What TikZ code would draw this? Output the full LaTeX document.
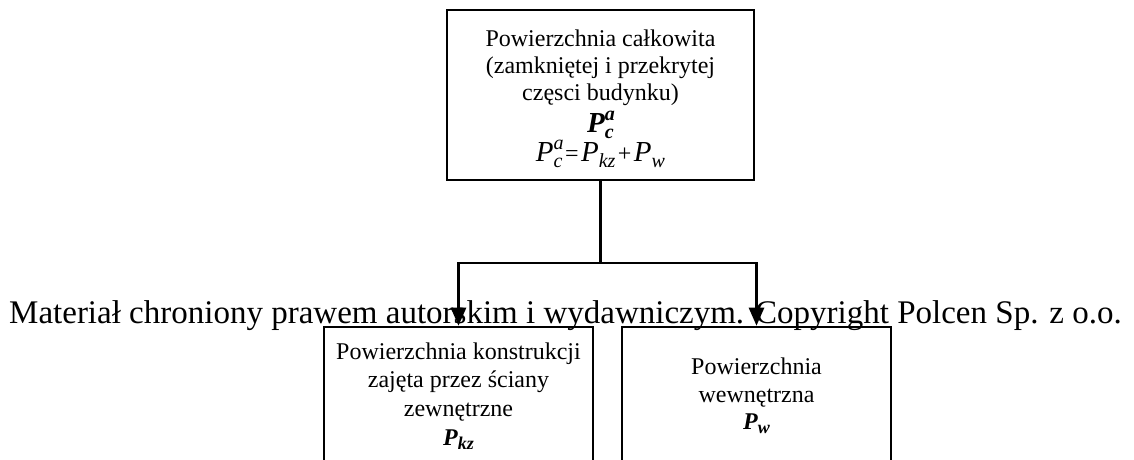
\documentclass[tikz,border=0pt]{standalone}
\usepackage{fontspec}
\setmainfont{Liberation Serif}
\usetikzlibrary{arrows.meta}

% sizes for the symbols: base letter, indices, operators
\newcommand{\basesz}{\fontsize{29}{27}\selectfont}
\newcommand{\idxsz}{\fontsize{20}{20}\selectfont}
\newcommand{\opsz}{\fontsize{24}{27}\selectfont}
% base letter with subscript (#2) and superscript (#3)
\newcommand{\subsup}[3]{#1\rlap{\raisebox{12pt}{\idxsz #3}}\raisebox{-6pt}{\idxsz #2}}
% base letter with subscript only
\newcommand{\subonly}[2]{#1\raisebox{-6pt}{\idxsz #2}}
% operator with a little room on both sides
\newcommand{\op}[1]{\hspace{2.5pt}{\opsz\upshape #1}\hspace{2.5pt}}

\tikzset{
  box/.style={draw, line width=2.6pt, align=center, inner sep=0pt},
  conn/.style={line width=2.6pt},
  tip/.style={-{Triangle[width=15pt,length=18pt]}},
  mark text/.style={inner sep=0pt, anchor=base, font=\fontsize{33}{38}\selectfont}
}

\begin{document}
\begin{tikzpicture}[x=1pt,y=-1pt]
  \useasboundingbox (0,0) rectangle (1134,460);
  \clip (0,0) rectangle (1134,460);

  % total area
  \node[box, minimum width=307pt, minimum height=170pt,
        font=\fontsize{24}{27}\selectfont] (top) at (600.5,95)
    {\rule{0pt}{24.4pt}Powierzchnia całkowita\\(zamkniętej i przekrytej\\częsci budynku)\\[5pt]
     {\basesz\bfseries\itshape\subsup{P}{c}{a}}\\[1pt]
     {\basesz\itshape\subsup{P}{c}{a}\op{=}\subonly{P}{kz}\op{+}\subonly{P}{w}}};

  % construction area
  \node[box, minimum width=269pt, minimum height=138pt,
        font=\fontsize{24}{28.7}\selectfont] (kz) at (458.5,396)
    {Powierzchnia konstrukcji\\zajęta przez ściany\\zewnętrzne\\
     {\bfseries\itshape P\raisebox{-4pt}{\fontsize{18}{18}\selectfont kz}}};

  % inner area
  \node[box, minimum width=269pt, minimum height=138pt,
        font=\fontsize{24}{27.5}\selectfont] (w) at (756.5,396)
    {Powierzchnia\\wewnętrzna\\
     {\bfseries\itshape P\raisebox{-4pt}{\fontsize{18}{18}\selectfont w}}};

  % copyright line
  \node[mark text] (note) at (565.5,323)
    {Materiał chroniony prawem autorskim i wydawniczym. Copyright Polcen Sp. z o.o.};

  % connectors
  \coordinate (level) at (0,263);
  \coordinate (j) at (top.south |- level);
  \draw[conn] (top.south) -- (j);
  \draw[conn, tip] (j) -| (kz.north);
  \draw[conn, tip] (j) -| (w.north);
\end{tikzpicture}
\end{document}
